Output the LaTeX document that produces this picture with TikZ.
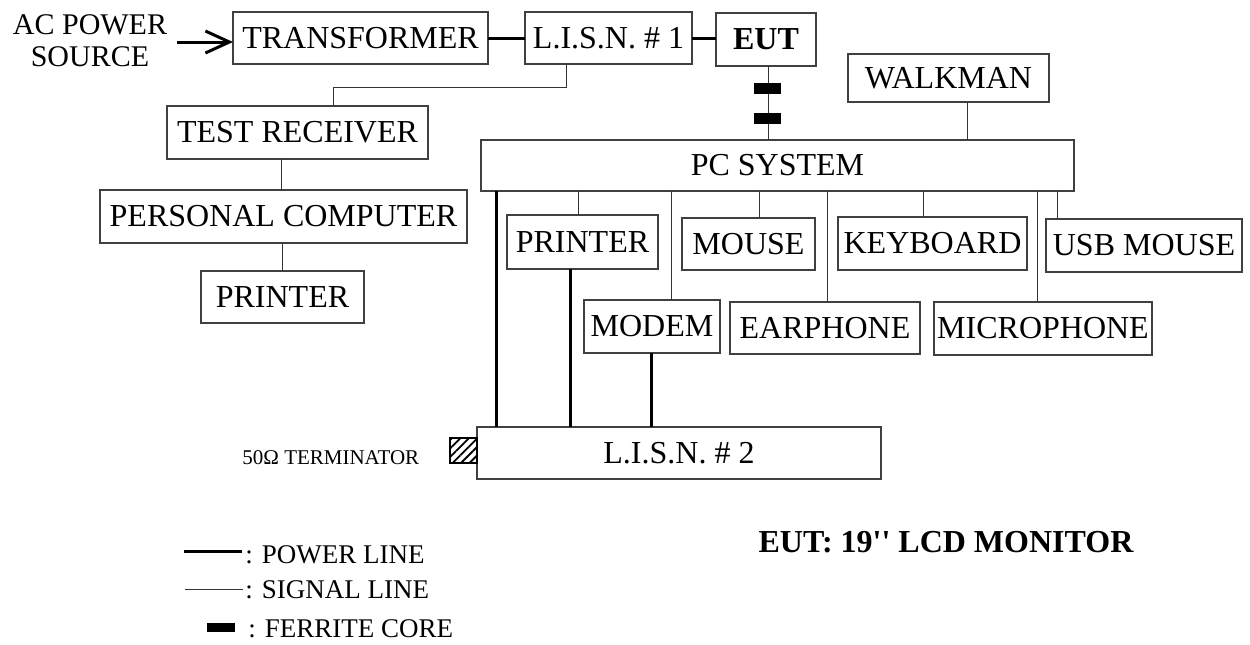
\documentclass[tikz,border=0pt]{standalone}
\usepackage{fontspec}
\setmainfont{Liberation Serif}
\usetikzlibrary{arrows.meta,patterns.meta}
\newcommand\bx[6]{\node[box,minimum width={(#4-#2)*0.5pt},minimum height={(#5-#3)*0.5pt}] (#1) at ({(#2+#4)/2},{(#3+#5)/2}) {#6};}
\tikzset{
  box/.style={draw=black!75,line width=0.6pt,inner sep=0pt,outer sep=0pt,font=\fontsize{16}{19}\selectfont,fill=white},
  powerline/.style={line width=1.5pt,black},
  signalline/.style={line width=0.5pt,black!80},
  ferrite/.style={fill=black,draw=none,inner sep=0pt,outer sep=0pt},
  legendtext/.style={anchor=west,inner sep=0pt,font=\fontsize{13.5}{16}\selectfont},
}
\begin{document}
\begin{tikzpicture}[x=0.5pt,y=-0.5pt]
\useasboundingbox (0,0) rectangle (1250,644);
% boxes
\bx{tr}{233}{12}{488}{64}{TRANSFORMER}
\bx{lisnA}{525}{12}{692}{64}{L.I.S.N. \# 1}
\bx{eut}{716}{13}{816}{66}{\textbf{EUT}}
\bx{walk}{848}{54}{1049}{102}{WALKMAN}
\bx{pcs}{481}{140}{1074}{191}{PC SYSTEM}
\bx{trc}{167}{106}{428}{159}{TEST RECEIVER}
\bx{pc}{100}{190}{467}{243}{PERSONAL COMPUTER}
\bx{prl}{201}{271}{364}{323}{PRINTER}
\bx{prn}{507}{215}{658}{269}{PRINTER}
\bx{mouse}{682}{218}{815}{270}{MOUSE}
\bx{kb}{838}{217}{1027}{270}{KEYBOARD}
\bx{usb}{1046}{219}{1242}{272}{USB MOUSE}
\bx{modem}{584}{300}{720}{353}{MODEM}
\bx{ear}{730}{302}{920}{354}{EARPHONE}
\bx{mic}{934}{302}{1152}{355}{MICROPHONE}
\bx{lisnB}{477}{427}{881}{479}{L.I.S.N. \# 2}
\node[draw=black,line width=0.6pt,inner sep=0pt,outer sep=0pt,minimum width=13.5pt,minimum height=12.5pt,
  pattern={Lines[angle=45,distance=3pt,line width=0.9pt]}] (term) at (463.5,450.5) {};
% texts
\node[align=center,inner sep=0pt,font=\fontsize{15}{16}\selectfont] (ac) at (90,41) {AC POWER\\SOURCE};
\node[anchor=west,inner sep=0pt,font=\fontsize{10.5}{12}\selectfont] (termtext) at (242,458) {50Ω TERMINATOR};
\node[inner sep=0pt,font=\bfseries\fontsize{16}{19}\selectfont] (title) at (946,542) {EUT: 19\textquotesingle\textquotesingle\ LCD MONITOR};
% input arrow
\coordinate (a0) at (177,42);
\draw[powerline,-{Straight Barb[length=12pt,width=11pt,line width=1.5pt]}] (a0) -- (a0 -| tr.west);
% power lines top
\draw[powerline] (tr.east) -- (lisnA.west);
\draw[powerline] (lisnA.east) -- (lisnA.east -| eut.west);
% LISN1 to test receiver
\draw[signalline] (lisnA.south -| 566,0) |- (333,87) -- (trc.north -| 333,0);
\draw[signalline] (trc.south -| 281,0) -- (pc.north -| 281,0);
\draw[signalline] (pc.south -| 282,0) -- (prl.north -| 282,0);
% EUT to PC system with ferrites
\draw[signalline] (eut.south -| 768,0) -- (pcs.north -| 768,0);
\node[ferrite,minimum width=13.5pt,minimum height=5.5pt] (fcA) at (767.5,88.5) {};
\node[ferrite,minimum width=13.5pt,minimum height=5.5pt] (fcB) at (767.5,118.5) {};
\draw[signalline] (walk.south -| 967,0) -- (pcs.north -| 967,0);
% PC system to peripherals
\draw[signalline] (pcs.south -| 578,0) -- (prn.north -| 578,0);
\draw[signalline] (pcs.south -| 671,0) -- (modem.north -| 671,0);
\draw[signalline] (pcs.south -| 759,0) -- (mouse.north -| 759,0);
\draw[signalline] (pcs.south -| 827,0) -- (ear.north -| 827,0);
\draw[signalline] (pcs.south -| 923,0) -- (kb.north -| 923,0);
\draw[signalline] (pcs.south -| 1037,0) -- (mic.north -| 1037,0);
\draw[signalline] (pcs.south -| 1057,0) -- (usb.north -| 1057,0);
% power lines to LISN2
\draw[powerline] (pcs.south -| 496,0) -- (lisnB.north -| 496,0);
\draw[powerline] (prn.south -| 570,0) -- (lisnB.north -| 570,0);
\draw[powerline] (modem.south -| 651,0) -- (lisnB.north -| 651,0);
% legend
\coordinate (lpA) at (184,551); \coordinate (lpB) at (242,551);
\draw[powerline] (lpA) -- (lpB);
\node[legendtext] (lpt) at (245,555) {: POWER LINE};
\coordinate (lsA) at (185,589); \coordinate (lsB) at (243,589);
\draw[signalline] (lsA) -- (lsB);
\node[legendtext] (lst) at (245,590) {: SIGNAL LINE};
\node[ferrite,minimum width=14pt,minimum height=4.5pt] (lf) at (221,627.5) {};
\node[legendtext] (lft) at (248,629) {: FERRITE CORE};
\end{tikzpicture}
\end{document}
